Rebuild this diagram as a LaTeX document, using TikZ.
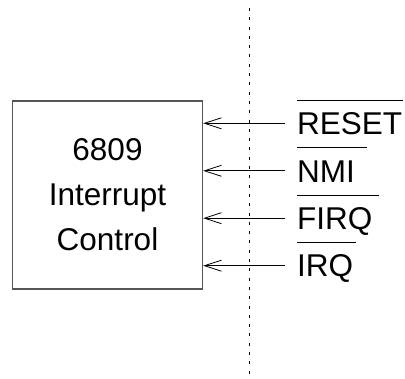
\documentclass[tikz,border=0pt]{standalone}
\usepackage{fontspec}
\setmainfont{Liberation Sans}
\usetikzlibrary{arrows.meta}
\definecolor{boxgray}{HTML}{555555}
\begin{document}
\begin{tikzpicture}[x=1pt,y=-1pt,
  bigfont/.style={font=\fontsize{31.5}{45}\selectfont},
  sig/.style={bigfont,anchor=west,inner sep=0pt,text height=22.6pt,text depth=0pt},
  inarrow/.style={line width=0.8pt,-{Straight Barb[length=17pt,width=11pt,line width=0.8pt]}},
  bar/.style={line width=0.8pt}]
\useasboundingbox (0,0) rectangle (405,379);
\node[draw=boxgray,line width=1.3pt,minimum width=190pt,minimum height=188pt,inner sep=0pt,
      bigfont,align=center] (box) at (107.5,195) {6809\\Interrupt\\Control};
\coordinate (dtop) at (249,8);
\coordinate (dbot) at (249,379);
\draw[line width=0.9pt,dash pattern=on 3pt off 6.3pt] (dtop) -- (dbot);
\node[sig] (reset) at (297,123.3) {RESET};
\node[sig] (nmi) at (297,170.8) {NMI};
\node[sig] (firq) at (297,218.2) {FIRQ};
\node[sig] (irq) at (297,265.7) {IRQ};
\foreach \n/\w in {reset/106,nmi/70,firq/82,irq/59}{
  \draw[inarrow] ([xshift=-12pt]\n.west) -- (box.east |- \n.west);
  \draw[bar] ([yshift=11.5pt]\n.north west) -- ++(\w,0);
}
\end{tikzpicture}
\end{document}
